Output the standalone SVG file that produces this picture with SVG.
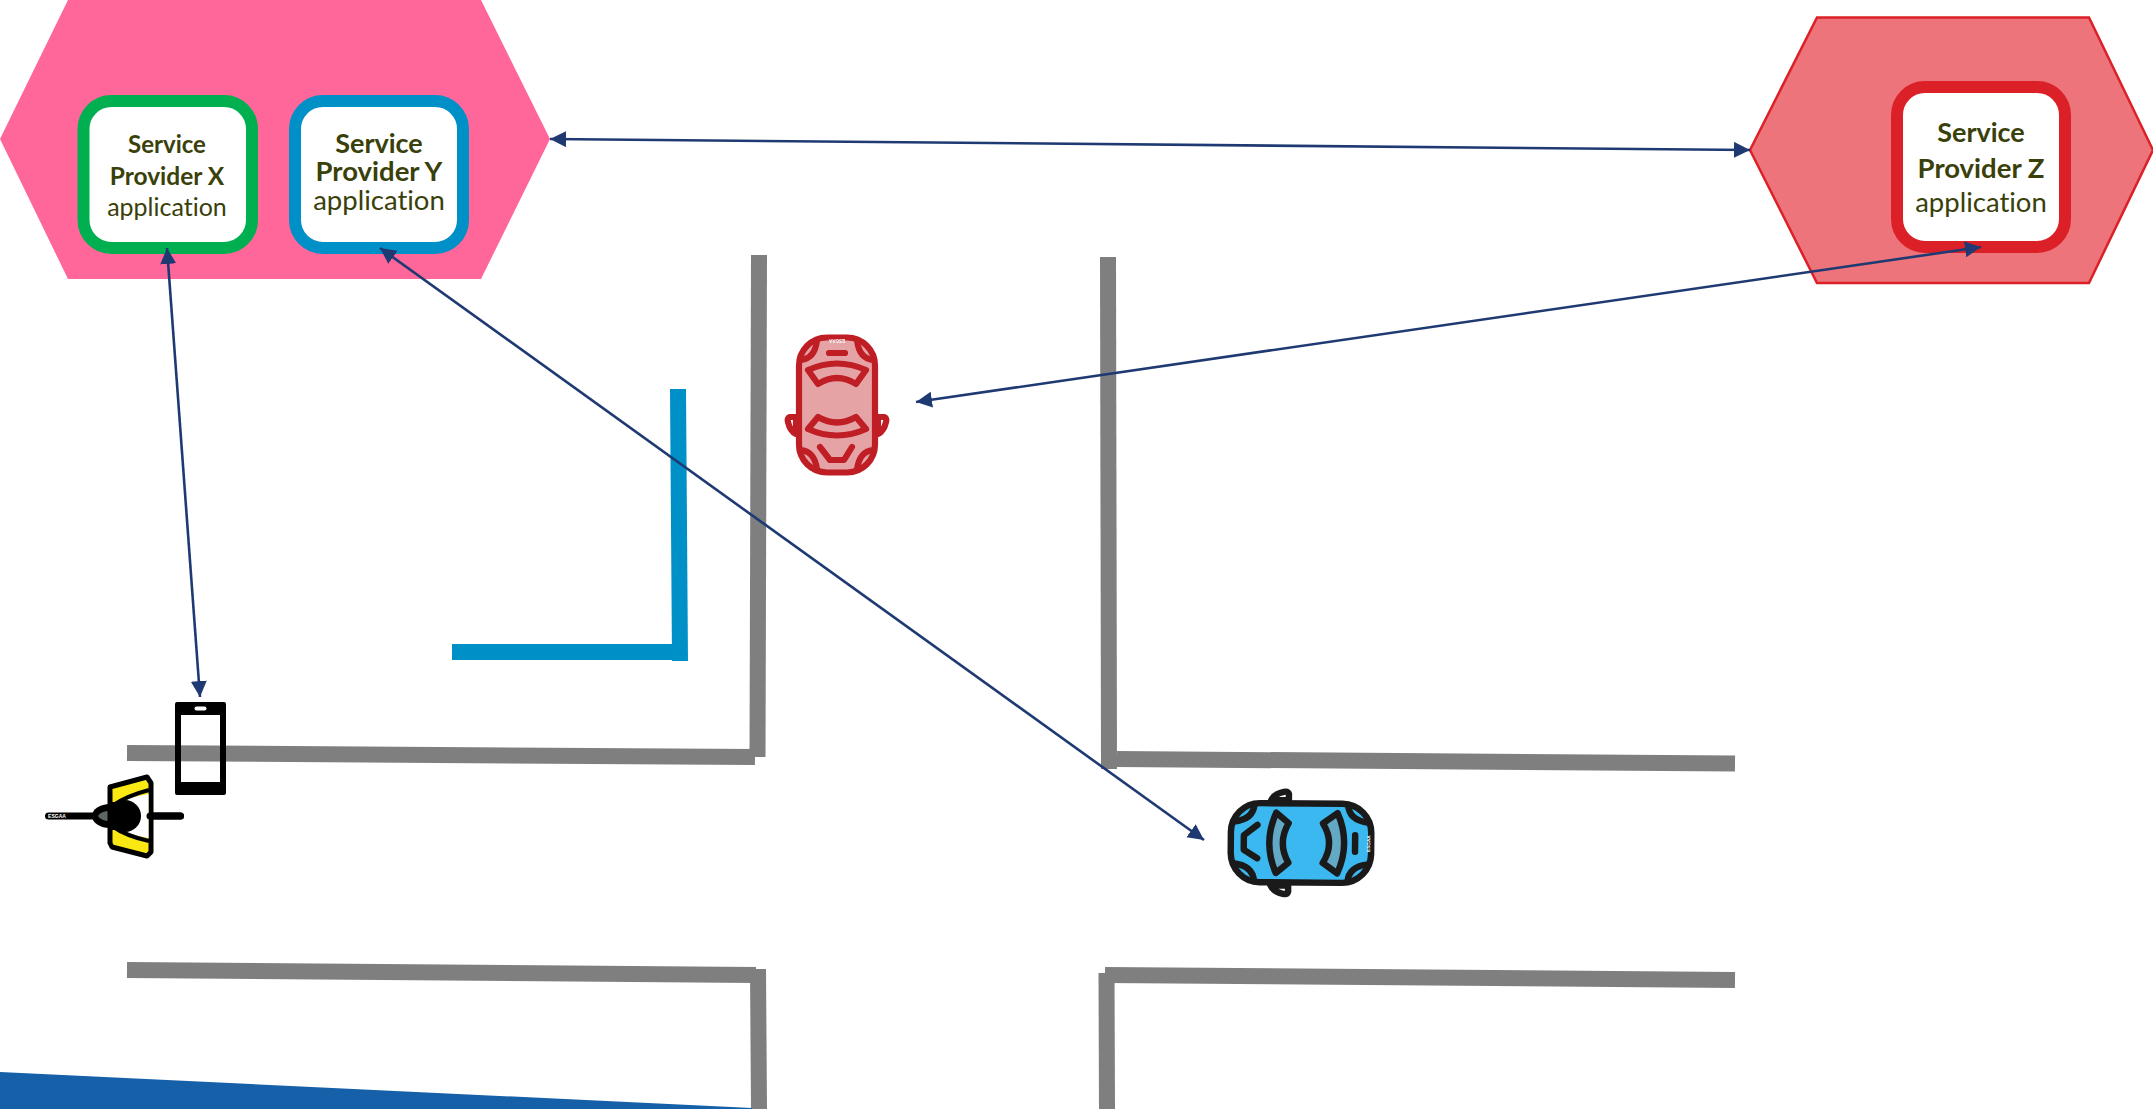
<svg xmlns="http://www.w3.org/2000/svg" xmlns:xlink="http://www.w3.org/1999/xlink" width="2153" height="1109" viewBox="0 0 2153 1109">
<style>
text{font-family:"Lato","Open Sans","Liberation Sans",sans-serif;fill:#3A400A;text-anchor:middle;font-variant-ligatures:none}
.b{font-weight:700}
.road{stroke:#7F7F7F;stroke-width:16;fill:none}
.wall{stroke:#0090C8;stroke-width:16;fill:none}
.app{fill:#fff;stroke-width:12}
.conn{stroke:#1F3A73;stroke-width:2.6;fill:none;marker-start:url(#ah);marker-end:url(#ah)}
.cs{stroke-width:6.200;stroke-linejoin:round;stroke-linecap:round}
.tiny{font-size:4.5px;fill:#fff;font-weight:700;font-family:"Liberation Sans",sans-serif}
</style>
<defs>
<marker id="ah" markerUnits="userSpaceOnUse" markerWidth="18" markerHeight="18" refX="16" refY="8" orient="auto-start-reverse"><path d="M0,0L16,8L0,16Z" fill="#1F3A73"/></marker>
<g id="car" class="cs">
<path d="M-41,12L-47,12Q-50,13 -49,17Q-47,26 -41,29Z" fill="#fff"/>
<path d="M41,12L47,12Q50,13 49,17Q47,26 41,29Z" fill="#fff"/>
<rect x="-38" y="-67.500" width="76" height="135" rx="28"/>
<path d="M-29,-35Q0,-48 29,-35L19,-21Q0,-33 -19,-21Z" style="fill:var(--w)"/>
<path d="M-29,24Q0,37 29,24L19,12Q0,23 -19,12Z" style="fill:var(--w)"/>
<path d="M-8,-52L8,-52M-17,42L-7,55L7,55L15,42" fill="none"/>
<path d="M-37,-45Q-22,-46 -20,-65M37,-45Q22,-46 20,-65M-37,45Q-22,46 -20,65M37,45Q22,46 20,65" fill="none"/>
<text class="tiny" transform="translate(0,-66.5) rotate(180)" stroke="none">ESGAA</text>
</g>
</defs>
<rect width="2153" height="1109" fill="#fff"/>
<g id="roads">
<path class="road" d="M759,255L757.5,757"/>
<path class="road" d="M127,753L755,757"/>
<path class="road" d="M1108,257L1109,769"/>
<path class="road" d="M1117,759L1735,763.5"/>
<path class="road" d="M127,970L756,975"/>
<path class="road" d="M758,969L759,1109"/>
<path class="road" d="M1106.5,973L1107,1109"/>
<path class="road" d="M1105,975L1735,980"/>
<path class="wall" d="M678,389L680,661"/>
<path class="wall" d="M452,652L680,652"/>
<path d="M0,1072L752,1108L752,1109L0,1109Z" fill="#1560A8"/>
</g>
<g id="cloud-xy"><path d="M0,139L68,0L481,0L550,139L481,279L68,279Z" fill="#FF6699"/></g>
<g id="cloud-z"><path d="M1750,150L1817,17.500L2089,17.500L2153,150L2089,283L1817,283Z" fill="#EC747A" stroke="#DC2028" stroke-width="2.5"/></g>
<g id="provider-x">
<rect class="app" x="83.5" y="101" width="168.500" height="147" rx="28" stroke="#00B050"/>
<text class="b" x="167" y="152.500" font-size="24">Service</text>
<text class="b" x="167" y="184.500" font-size="24.500">Provider X</text>
<text x="167" y="216" font-size="25">application</text>
</g>
<g id="provider-y">
<rect class="app" x="295" y="101" width="168" height="147" rx="28" stroke="#0090C8"/>
<text class="b" x="379" y="153" font-size="27">Service</text>
<text class="b" x="379" y="181" font-size="27.500">Provider Y</text>
<text x="379" y="210" font-size="27.500">application</text>
</g>
<g id="provider-z">
<rect class="app" x="1897" y="87" width="168" height="160" rx="28" stroke="#DC2028"/>
<text class="b" x="1981" y="142" font-size="27">Service</text>
<text class="b" x="1981" y="178" font-size="27.500">Provider Z</text>
<text x="1981" y="212" font-size="27.500">application</text>
</g>
<g id="red-car" transform="translate(837,405)" fill="#E5A3A6" stroke="#BE1E24" style="--w:#E5A3A6"><use href="#car"/></g>
<g id="blue-car" transform="translate(1301,843) rotate(90.500) scale(1.04)" fill="#3BB8F0" stroke="#1A1A1A" style="--w:#63A9C5"><use href="#car"/></g>
<g id="phone">
<path fill-rule="evenodd" d="M177,702H224Q226,702 226,704V793Q226,795 224,795H177Q175,795 175,793V704Q175,702 177,702ZM181,715V782H220V715Z" fill="#000"/>
<rect x="194.500" y="706.500" width="12" height="4" rx="2" fill="#fff"/>
</g>
<g id="cyclist">
<path d="M48.500,816H180.500" stroke="#000" stroke-width="7" stroke-linecap="round"/>
<text class="tiny" x="57" y="818" style="font-size:5px">ESGAA</text>
<ellipse cx="110" cy="816" rx="18" ry="12" fill="#000"/>
<path d="M98,816Q101,811 110,811V821Q101,821 98,816Z" fill="#5F6666"/>
<path d="M110,787L147,777L151,783V852L147,856L112,847L110,843Z" fill="#F9E814" stroke="#000" stroke-width="5" stroke-linejoin="round"/>
<path d="M128,798L148.500,794V838L128,834Z" fill="#fff"/>
<path d="M112,806Q126,796 149,790M112,826Q126,836 149,841" stroke="#000" stroke-width="4" fill="none"/>
<path d="M150,816H180.500" stroke="#000" stroke-width="7" stroke-linecap="round"/>
<circle cx="125" cy="816" r="16" fill="#000"/>
<path d="M112,802V830" stroke="#000" stroke-width="6"/>
</g>
<g id="connectors">
<path class="conn" d="M550,139L1750,150"/>
<path class="conn" d="M167,248L200,697"/>
<path class="conn" d="M380,248L1204,840"/>
<path class="conn" d="M1981,247L916,402"/>
</g>
</svg>
